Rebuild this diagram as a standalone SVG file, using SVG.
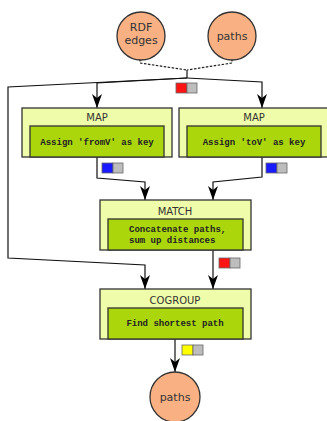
<svg xmlns="http://www.w3.org/2000/svg" width="327" height="421" viewBox="0 0 327 421">
  <defs>
    <marker id="arrow" viewBox="0 0 10 14" refX="10" refY="5" markerWidth="10" markerHeight="14" markerUnits="userSpaceOnUse" orient="auto">
      <path d="M0,0 L10,5 L0,10 L3,5 z" fill="#000"/>
    </marker>
    <marker id="tri" viewBox="0 0 14 10" refX="14" refY="5" markerWidth="14" markerHeight="10" markerUnits="userSpaceOnUse" orient="auto">
      <path d="M0,0 L14,5 L0,10 L4,5 z" fill="#000"/>
    </marker>
    <style>
      .src { fill: #f9b183; stroke: #333; stroke-width: 1.3; }
      .outer { fill: #effca9; stroke: #333; stroke-width: 1.3; }
      .inner { fill: #abd60c; stroke: #333; stroke-width: 1.3; }
      .lbl { font-family: "DejaVu Sans", sans-serif; font-size: 10px; fill: #333; text-anchor: middle; }
      .circ { font-family: "DejaVu Sans", sans-serif; font-size: 11px; fill: #333; text-anchor: middle; }
      .code { font-family: "Liberation Mono", "DejaVu Sans Mono", monospace; font-size: 9px; font-weight: bold; fill: #222; }
      .edge { fill: none; stroke: #111; stroke-width: 1.2; }
      .dash { fill: none; stroke: #222; stroke-width: 1.2; stroke-dasharray: 2.5 1.5; }
      .gray { fill: #bdbdbd; stroke: #666; stroke-width: 0.8; }
      .tag { stroke: #666; stroke-width: 0.8; }
    </style>
  </defs>
  <rect width="327" height="421" fill="#ffffff"/>

  <!-- connectors -->
  <g id="connectors">
    <path class="dash" d="M140,59 L140,63 L187,70"/>
    <path class="dash" d="M232,59 L232,63 L187,70"/>
    <path class="edge" d="M187,70 L187,78"/>
    <path class="edge" d="M187,78 L97,83 L97,108" marker-end="url(#tri)"/>
    <path class="edge" d="M187,78 L262,82 L262,108" marker-end="url(#tri)"/>
    <path class="edge" d="M187,78 L8,87 L8,258 L145,265 L145,289" marker-end="url(#tri)"/>
    <path class="edge" d="M97,157 L97,178 L145,182 L145,200" marker-end="url(#tri)"/>
    <path class="edge" d="M262,157 L262,177 L213,182 L213,200" marker-end="url(#tri)"/>
    <path class="edge" d="M213,250 L213,289" marker-end="url(#tri)"/>
    <path class="edge" d="M175,339 L175,372" marker-end="url(#tri)"/>

    <!-- data-type tags -->
    <rect class="tag" x="176" y="83" width="11" height="10" fill="#ff1414"/>
    <rect class="gray" x="187" y="83" width="10" height="10"/>
    <rect class="tag" x="102" y="163" width="11" height="10" fill="#1a1aff"/>
    <rect class="gray" x="113" y="163" width="10" height="10"/>
    <rect class="tag" x="266" y="163" width="11" height="10" fill="#1a1aff"/>
    <rect class="gray" x="277" y="163" width="10" height="10"/>
    <rect class="tag" x="219" y="258" width="11" height="10" fill="#ff1414"/>
    <rect class="gray" x="230" y="258" width="10" height="10"/>
    <rect class="tag" x="182" y="345" width="11" height="10" fill="#ffff00"/>
    <rect class="gray" x="193" y="345" width="10" height="10"/>
  </g>

  <!-- sources -->
  <g id="rdf-edges">
    <circle class="src" cx="141" cy="36" r="24"/>
    <text class="circ" x="141" y="31">RDF</text>
    <text class="circ" x="141" y="44">edges</text>
  </g>
  <g id="paths-in">
    <circle class="src" cx="232" cy="36" r="24"/>
    <text class="circ" x="232" y="40">paths</text>
  </g>

  <!-- operators -->
  <g id="map-from">
    <rect class="outer" x="22" y="108" width="150" height="49"/>
    <text class="lbl" x="97" y="121">MAP</text>
    <rect class="inner" x="30" y="126" width="134" height="31"/>
    <text class="code" x="97" y="145" text-anchor="middle">Assign 'fromV' as key</text>
  </g>
  <g id="map-to">
    <rect class="outer" x="179" y="108" width="152" height="49"/>
    <text class="lbl" x="254" y="121">MAP</text>
    <rect class="inner" x="187" y="126" width="134" height="31"/>
    <text class="code" x="254" y="145" text-anchor="middle">Assign 'toV' as key</text>
  </g>
  <g id="match">
    <rect class="outer" x="100" y="200" width="151" height="50"/>
    <text class="lbl" x="175" y="215">MATCH</text>
    <rect class="inner" x="108" y="219" width="135" height="31"/>
    <text class="code" x="129" y="232">Concatenate paths,</text>
    <text class="code" x="129" y="243">sum up distances</text>
  </g>
  <g id="cogroup">
    <rect class="outer" x="100" y="289" width="151" height="50"/>
    <text class="lbl" x="175" y="304">COGROUP</text>
    <rect class="inner" x="108" y="308" width="135" height="31"/>
    <text class="code" x="175" y="326" text-anchor="middle">Find shortest path</text>
  </g>

  <!-- sink -->
  <g id="paths-out">
    <circle class="src" cx="175" cy="397" r="25"/>
    <text class="circ" x="175" y="401">paths</text>
  </g>
</svg>
